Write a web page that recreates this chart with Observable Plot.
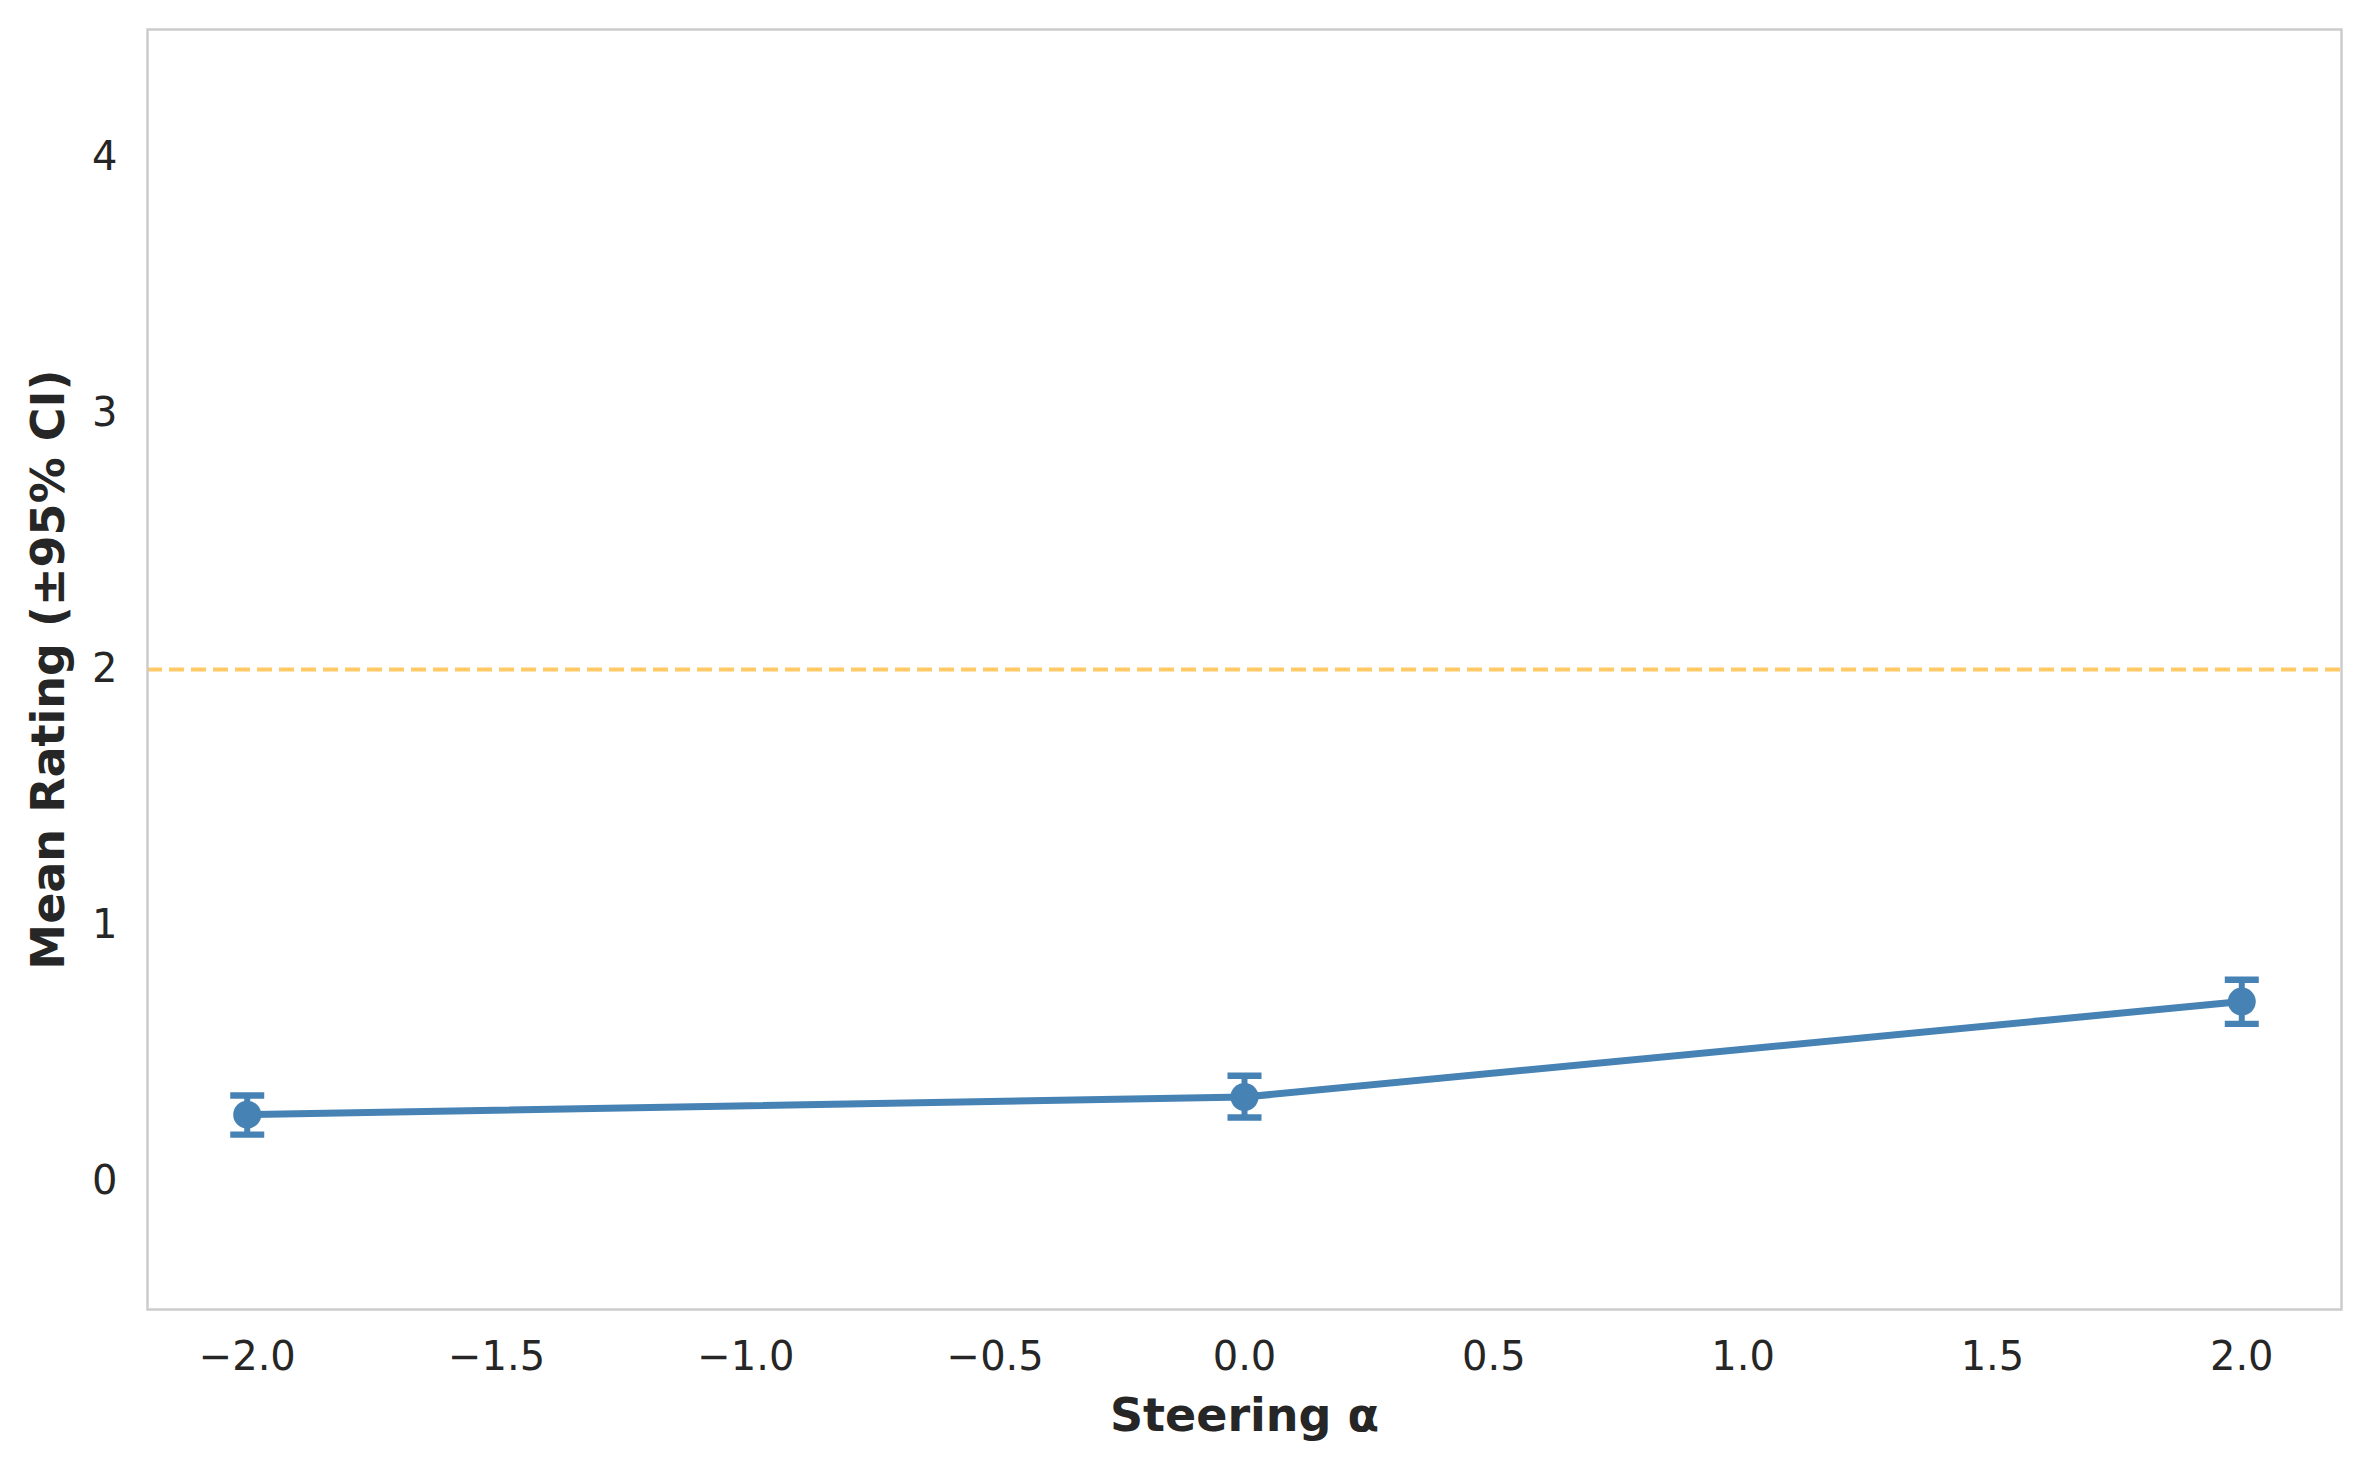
<!DOCTYPE html>
<html>
<head>
<meta charset="utf-8">
<script src="https://cdn.jsdelivr.net/npm/d3@7"></script>
<script src="https://cdn.jsdelivr.net/npm/@observablehq/plot@0.6"></script>
<style>
  html, body { margin: 0; padding: 0; background: white; }
</style>
</head>
<body>
<div id="chart"></div>
<script>
// ---- data ----
const alphas = [-2, 0, 2];
const meanRating = [0.261, 0.330, 0.703];
const ciLow = [0.183, 0.250, 0.616];
const ciHigh = [0.336, 0.413, 0.788];
const referenceLevel = [2];
const xTicks = [-2, -1.5, -1, -0.5, 0, 0.5, 1, 1.5, 2];
const yTicks = [0, 1, 2, 3, 4];
const xLabel = ["Steering α"];
const yLabel = ["Mean Rating (±95% CI)"];

const rows = alphas.map((a, i) => ({alpha: a, mean: meanRating[i], lo: ciLow[i], hi: ciHigh[i]}));

const blue = "#4682b4";
const textColor = "#262626";

// horizontal cap symbol for error bars
const capSymbol = {
  draw(context, size) {
    const h = Math.sqrt(size / Math.PI);
    context.moveTo(-h, 0);
    context.lineTo(h, 0);
  }
};

const chart = Plot.plot({
  width: 2370,
  height: 1470,
  marginLeft: 147,
  marginRight: 29,
  marginTop: 29,
  marginBottom: 161,
  style: {fontFamily: "DejaVu Sans", fontSize: "40px", color: textColor, background: "white"},
  x: {domain: [-2.2, 2.2]},
  y: {domain: [-0.5, 4.5]},
  marks: [
    Plot.axisX({ticks: xTicks, tickFormat: d3.format(".1f"), tickSize: 0, tickPadding: 32, label: null, fill: textColor}),
    Plot.axisY({ticks: yTicks, tickFormat: d3.format("d"), tickSize: 0, tickPadding: 30, label: null, fill: textColor}),
    Plot.ruleY(referenceLevel, {stroke: "#ffc966", strokeWidth: 4, strokeDasharray: "15,7"}),
    Plot.line(rows, {x: "alpha", y: "mean", stroke: blue, strokeWidth: 7}),
    Plot.ruleX(rows, {x: "alpha", y1: "lo", y2: "hi", stroke: blue, strokeWidth: 6}),
    Plot.dot(rows, {x: "alpha", y: "lo", symbol: capSymbol, r: 17, stroke: blue, strokeWidth: 6.3, fill: "none"}),
    Plot.dot(rows, {x: "alpha", y: "hi", symbol: capSymbol, r: 17, stroke: blue, strokeWidth: 6.3, fill: "none"}),
    Plot.dot(rows, {x: "alpha", y: "mean", r: 14, fill: blue, stroke: "none"}),
    Plot.text(xLabel, {frameAnchor: "bottom", textAnchor: "middle", lineAnchor: "middle", dy: 107, fontSize: 46, fontWeight: "bold", fill: textColor}),
    Plot.text(yLabel, {frameAnchor: "left", textAnchor: "middle", lineAnchor: "middle", dx: -98, rotate: -90, fontSize: 46, fontWeight: "bold", fill: textColor}),
    Plot.frame({stroke: "#cccccc", strokeWidth: 2.5})
  ]
});
document.getElementById("chart").appendChild(chart);
</script>
</body>
</html>
